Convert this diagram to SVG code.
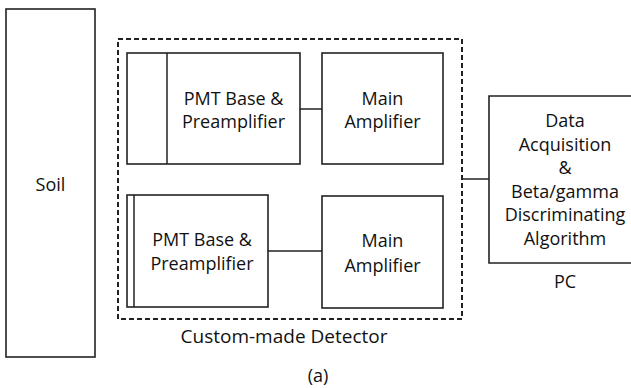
<svg xmlns="http://www.w3.org/2000/svg" width="631" height="388" viewBox="0 0 631 388">
  <style>
    .box { fill: #fff; stroke: #222; stroke-width: 1.6; }
    .dash { fill: none; stroke: #222; stroke-width: 2; stroke-dasharray: 5 3; }
    .wire { fill: none; stroke: #222; stroke-width: 1.5; }
    text { font-family: "Open Sans", "Noto Sans", sans-serif; font-size: 18px; fill: #111; text-anchor: middle; }
    .caption { font-size: 19px; }
  </style>
  <rect width="631" height="388" fill="#fff"/>

  <g id="soil">
    <rect class="box" x="6" y="9" width="89" height="348"/>
    <text x="50.5" y="191">Soil</text>
  </g>

  <g id="detector">
    <rect class="dash" x="118" y="39" width="344" height="280"/>
    <text class="caption" x="284" y="343">Custom-made Detector</text>
  </g>

  <g id="pmt1">
    <rect class="box" x="127" y="53" width="173" height="111"/>
    <line class="wire" x1="167" y1="53" x2="167" y2="164"/>
    <text x="233.5" y="105">PMT Base &amp;</text>
    <text x="233.5" y="128">Preamplifier</text>
  </g>

  <g id="amp1">
    <rect class="box" x="322" y="53" width="121" height="111"/>
    <text x="382.5" y="105">Main</text>
    <text x="382.5" y="128">Amplifier</text>
  </g>

  <g id="pmt2">
    <rect class="box" x="127" y="195" width="141" height="112"/>
    <line class="wire" x1="134" y1="195" x2="134" y2="307"/>
    <text x="202" y="246">PMT Base &amp;</text>
    <text x="202" y="270">Preamplifier</text>
  </g>

  <g id="amp2">
    <rect class="box" x="322" y="196" width="121" height="112"/>
    <text x="382.5" y="247">Main</text>
    <text x="382.5" y="272">Amplifier</text>
  </g>

  <g id="pc">
    <path class="box" d="M632 96 H489 V263 H632"/>
    <text x="565" y="127">Data</text>
    <text x="565" y="151">Acquisition</text>
    <text x="565" y="174">&amp;</text>
    <text x="565" y="198">Beta/gamma</text>
    <text x="565" y="221">Discriminating</text>
    <text x="565" y="245">Algorithm</text>
    <text x="565" y="288">PC</text>
  </g>

  <g id="connectors">
    <line class="wire" x1="300" y1="109" x2="322" y2="109"/>
    <line class="wire" x1="268" y1="251" x2="322" y2="251"/>
    <line class="wire" x1="462" y1="179" x2="489" y2="179"/>
  </g>

  <text x="318" y="382">(a)</text>
</svg>
